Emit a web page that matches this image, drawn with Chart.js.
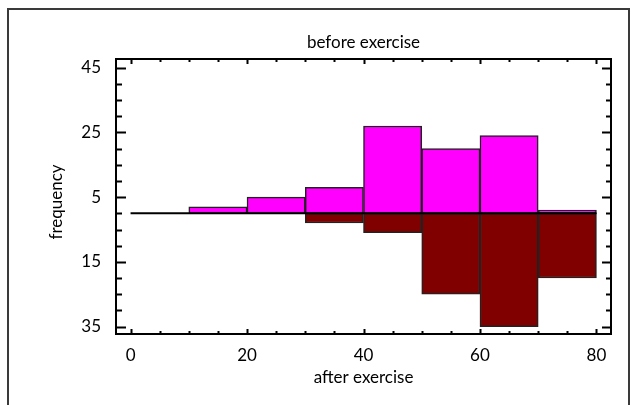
<!DOCTYPE html>
<html>
<head>
<meta charset="utf-8">
<script src="https://cdn.jsdelivr.net/npm/chart.js@4"></script>
<style>
  html, body { margin: 0; padding: 0; background: #fff; }
  #wrap { width: 635px; height: 405px; }
</style>
</head>
<body>
<div id="wrap"><canvas id="histChart" width="635" height="405"></canvas></div>
<script>
// bins are 10 wide, start values below
const binStarts = [0, 10, 20, 30, 40, 50, 60, 70];
const binWidth = 10;
const beforeCounts = [0, 2, 5, 8, 27, 20, 24, 1];
const afterCounts = [0, 0, 0, 3, 6, 25, 35, 20];
const yTickLabels = [45, 25, 5, -15, -35];
const xTickLabels = [0, 20, 40, 60, 80];

const FONT = 'Lato, "Open Sans", sans-serif';
const FONT_SIZE = 17;

function toPoints(counts, sign) {
    return binStarts.map((s, i) => ({ x: s + binWidth / 2, y: sign * counts[i] }));
}

// frame, inward ticks, zero line and the two titles that sit off-centre
const decorations = {
    id: 'decorations',
    afterDatasetsDraw(chart) {
        const { ctx, chartArea: a, scales: { x, y } } = chart;
        ctx.save();
        ctx.strokeStyle = '#000';
        ctx.lineWidth = 2;

        const y0 = y.getPixelForValue(0);
        ctx.beginPath();
        ctx.moveTo(x.getPixelForValue(binStarts[0]), y0);
        ctx.lineTo(x.getPixelForValue(binStarts[binStarts.length - 1] + binWidth), y0);
        ctx.stroke();

        ctx.strokeRect(a.left, a.top, a.right - a.left, a.bottom - a.top);

        ctx.beginPath();
        for (let v = -35; v <= 45; v += 5) {
            const py = Math.round(y.getPixelForValue(v)) + 0.5;
            const len = yTickLabels.includes(v) ? 10 : 6;
            ctx.moveTo(a.left, py); ctx.lineTo(a.left + len, py);
            ctx.moveTo(a.right, py); ctx.lineTo(a.right - len + 1, py);
        }
        for (let v = 0; v <= 80; v += 5) {
            const px = Math.round(x.getPixelForValue(v)) + 0.5;
            const len = xTickLabels.includes(v) ? 5 : 3;
            ctx.moveTo(px, a.top); ctx.lineTo(px, a.top + len);
            ctx.moveTo(px, a.bottom); ctx.lineTo(px, a.bottom - len);
        }
        ctx.stroke();
        ctx.restore();
    },
    afterDraw(chart) {
        const { ctx, chartArea: a } = chart;
        ctx.save();
        ctx.strokeStyle = '#3a3a3a';
        ctx.lineWidth = 2;
        ctx.beginPath();
        ctx.moveTo(8, 405);
        ctx.lineTo(8, 9);
        ctx.lineTo(629, 9);
        ctx.lineTo(629, 405);
        ctx.stroke();

        ctx.fillStyle = '#000';
        ctx.font = FONT_SIZE + 'px ' + FONT;
        ctx.textAlign = 'center';
        ctx.textBaseline = 'alphabetic';
        ctx.fillText('before exercise', (a.left + a.right) / 2, 48);

        ctx.translate(57, 202);
        ctx.rotate(-Math.PI / 2);
        ctx.textBaseline = 'middle';
        ctx.fillText('frequency', 0, 0);
        ctx.restore();
    }
};

const ctx = document.getElementById('histChart').getContext('2d');
new Chart(ctx, {
    type: 'bar',
    data: {
        datasets: [
            {
                label: 'before exercise',
                data: toPoints(beforeCounts, 1),
                backgroundColor: '#ff00ff',
                borderColor: '#222',
                borderWidth: 1.5,
                borderSkipped: false,
                grouped: false,
                barPercentage: 1,
                categoryPercentage: 1
            },
            {
                label: 'after exercise',
                data: toPoints(afterCounts, -1),
                backgroundColor: '#800000',
                borderColor: '#222',
                borderWidth: 1.5,
                borderSkipped: false,
                grouped: false,
                barPercentage: 1,
                categoryPercentage: 1
            }
        ]
    },
    options: {
        responsive: false,
        animation: false,
        layout: { padding: { top: 59, left: 39, right: 24, bottom: 13 } },
        plugins: {
            legend: { display: false },
            tooltip: { enabled: false },
            title: { display: false }
        },
        scales: {
            x: {
                type: 'linear',
                min: -2.5,
                max: 82.5,
                offset: false,
                grid: { display: false, drawTicks: false },
                border: { display: false },
                afterBuildTicks: scale => { scale.ticks = xTickLabels.map(v => ({ value: v })); },
                ticks: {
                    color: '#000',
                    font: { family: FONT, size: FONT_SIZE },
                    padding: 11,
                    maxRotation: 0,
                    autoSkip: false
                },
                title: {
                    display: true,
                    text: 'after exercise',
                    color: '#000',
                    font: { family: FONT, size: FONT_SIZE, lineHeight: 1.2 },
                    padding: { top: 0, bottom: 4 }
                },
                afterFit: scale => { scale.height = 58; }
            },
            y: {
                min: -37.3,
                max: 47.7,
                grid: { display: false, drawTicks: false },
                border: { display: false },
                afterBuildTicks: scale => { scale.ticks = yTickLabels.map(v => ({ value: v })); },
                ticks: {
                    color: '#000',
                    font: { family: FONT, size: FONT_SIZE },
                    padding: 15,
                    autoSkip: false,
                    callback: v => String(Math.abs(v))
                },
                afterFit: scale => { scale.width = 77; }
            }
        }
    },
    plugins: [decorations]
});
</script>
</body>
</html>
